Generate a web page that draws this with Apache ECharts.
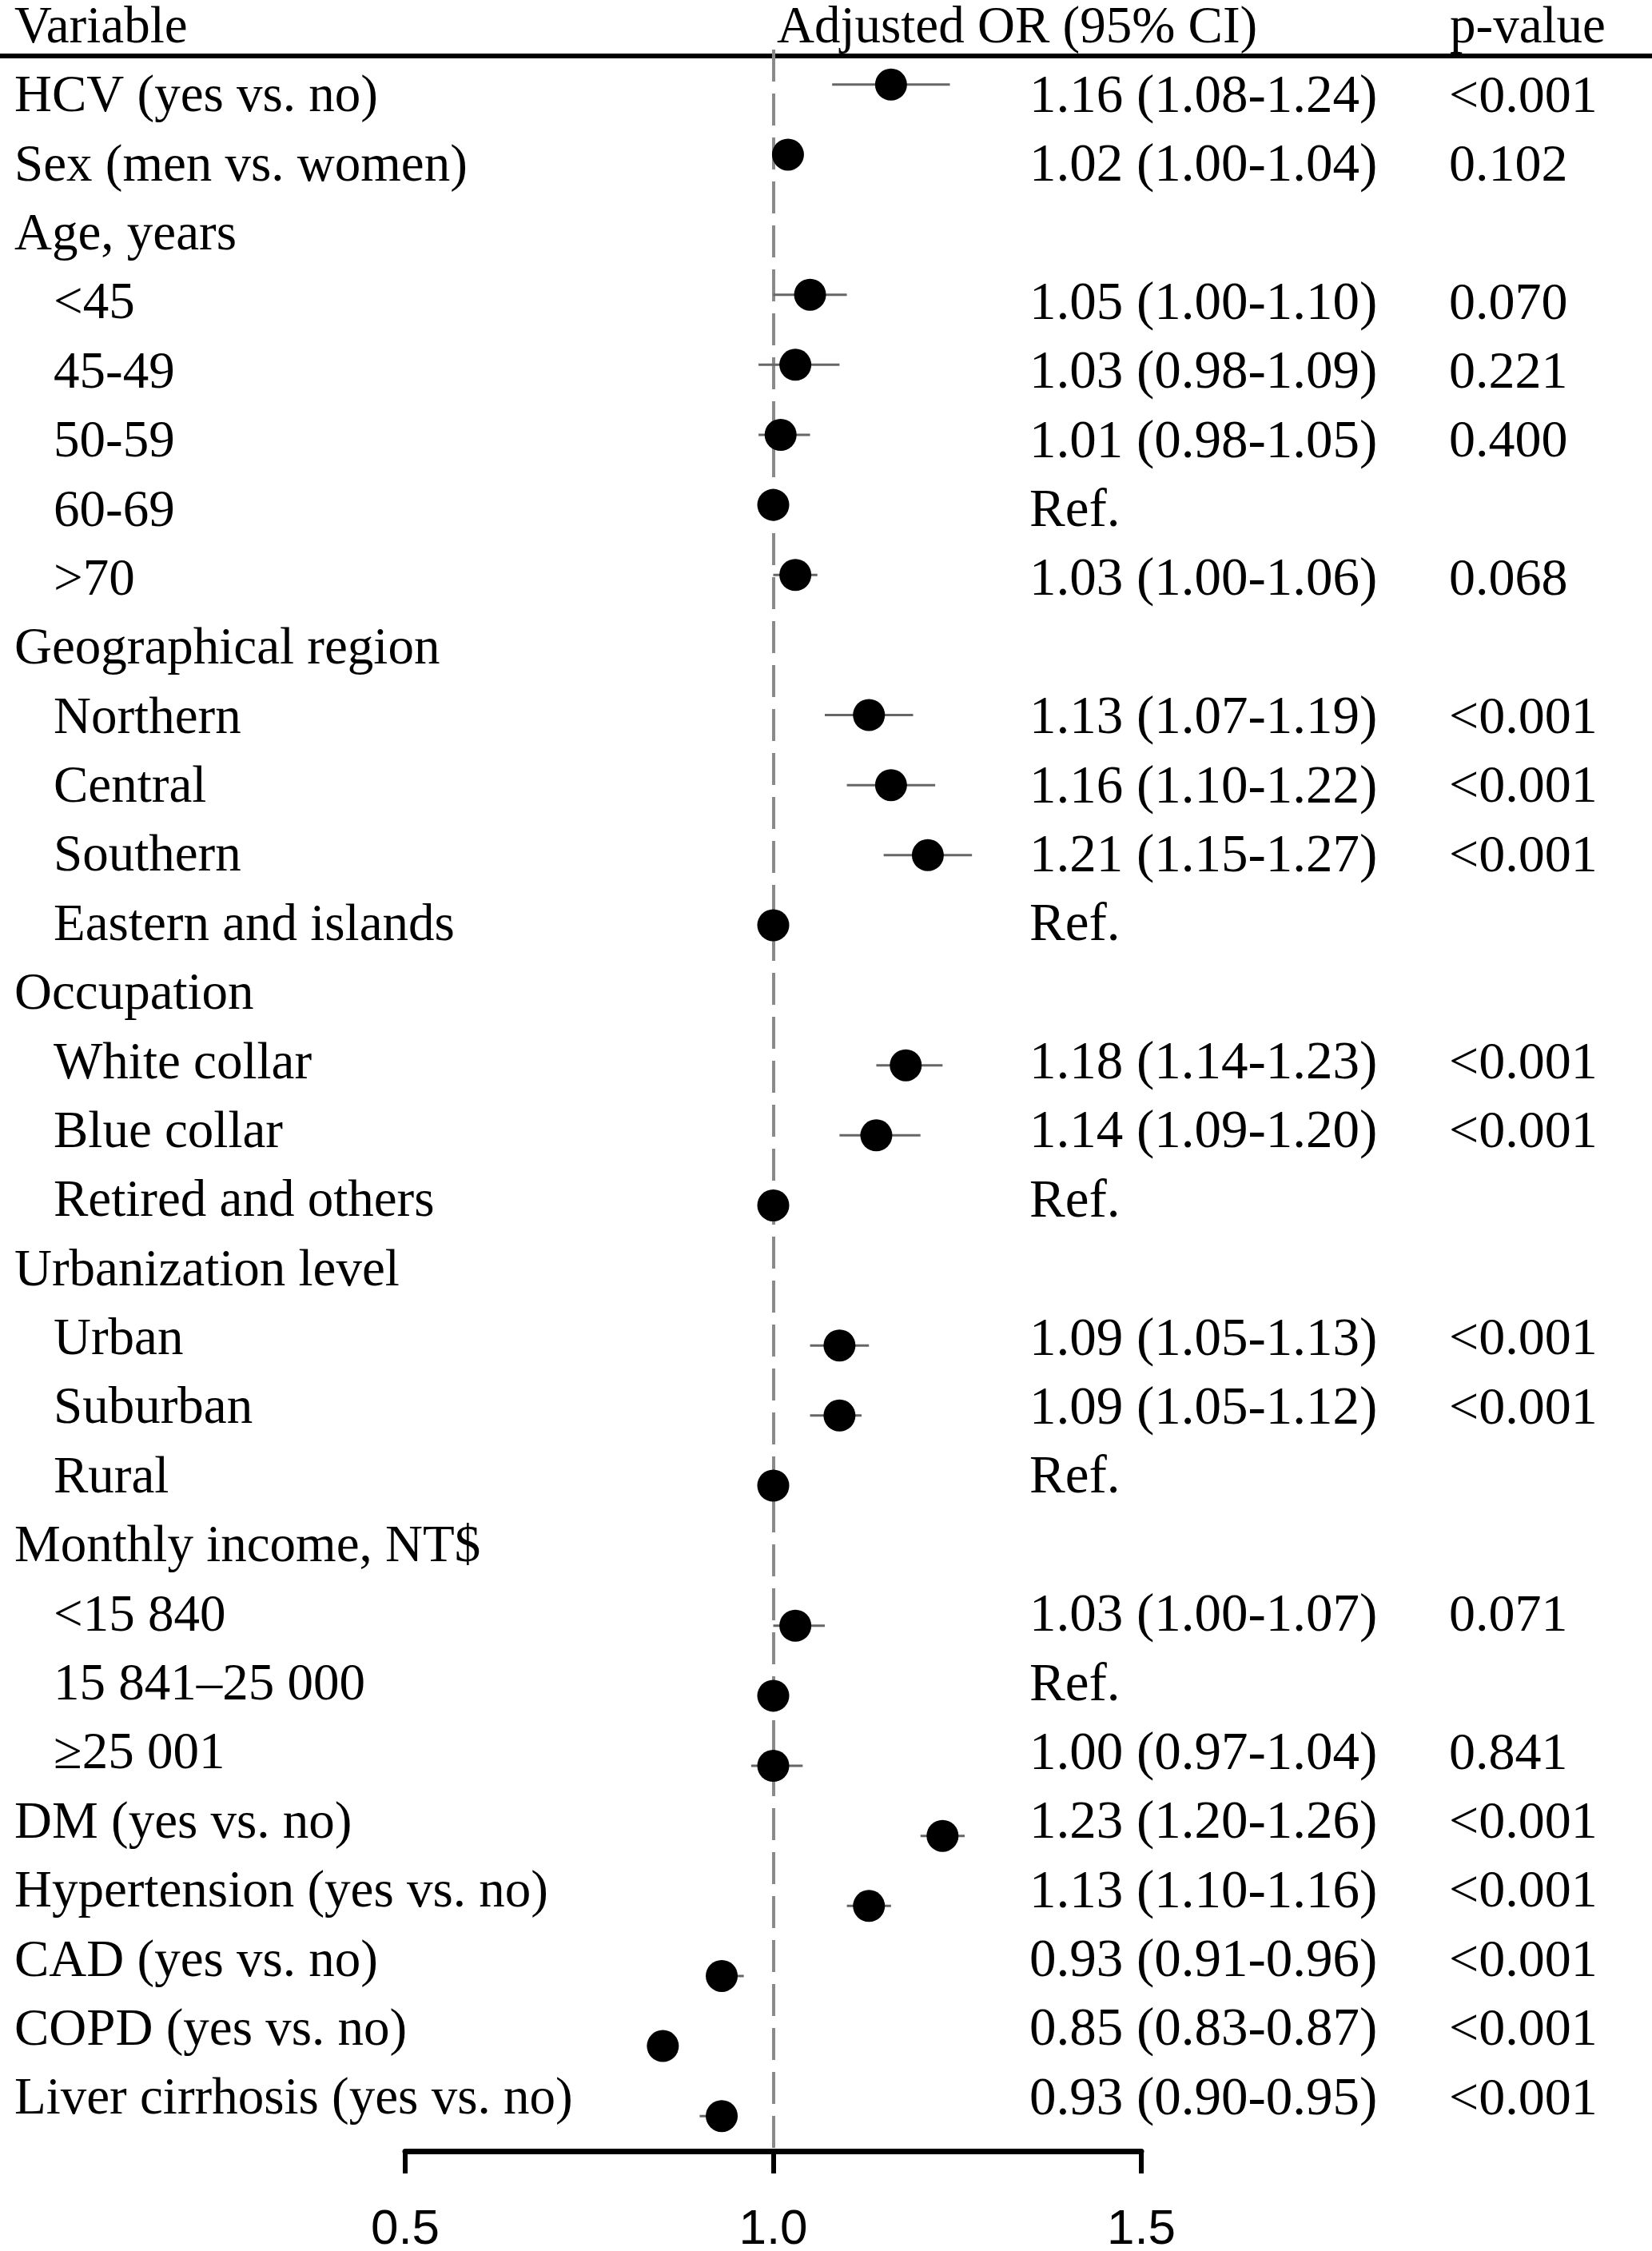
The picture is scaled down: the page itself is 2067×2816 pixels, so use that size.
<!DOCTYPE html>
<html>
<head>
  <meta charset="UTF-8">
  <script src="https://cdn.jsdelivr.net/npm/echarts@6/dist/echarts.min.js"></script>
  <style>
    html, body { margin: 0; padding: 0; background: #fff; }
    #main { width: 2067px; height: 2816px; }
  </style>
</head>
<body>
  <div id="main"></div>
  <script>
    // rows of the table, top to bottom
    var variables = [
      'HCV (yes vs. no)', 'Sex (men vs. women)', 'Age, years', '<45', '45-49', '50-59', '60-69', '>70',
      'Geographical region', 'Northern', 'Central', 'Southern', 'Eastern and islands',
      'Occupation', 'White collar', 'Blue collar', 'Retired and others',
      'Urbanization level', 'Urban', 'Suburban', 'Rural',
      'Monthly income, NT$', '<15 840', '15 841\u201325 000', '\u226525 001',
      'DM (yes vs. no)', 'Hypertension (yes vs. no)', 'CAD (yes vs. no)', 'COPD (yes vs. no)', 'Liver cirrhosis (yes vs. no)'
    ];
    var indent = [0, 0, 0, 1, 1, 1, 1, 1, 0, 1, 1, 1, 1, 0, 1, 1, 1, 0, 1, 1, 1, 0, 1, 1, 1, 0, 0, 0, 0, 0];
    var orValues = [1.16, 1.02, null, 1.05, 1.03, 1.01, 1.00, 1.03, null, 1.13, 1.16, 1.21, 1.00, null, 1.18, 1.14, 1.00,
      null, 1.09, 1.09, 1.00, null, 1.03, 1.00, 1.00, 1.23, 1.13, 0.93, 0.85, 0.93];
    var ciLow = [1.08, 1.00, null, 1.00, 0.98, 0.98, null, 1.00, null, 1.07, 1.10, 1.15, null, null, 1.14, 1.09, null,
      null, 1.05, 1.05, null, null, 1.00, null, 0.97, 1.20, 1.10, 0.91, 0.83, 0.90];
    var ciHigh = [1.24, 1.04, null, 1.10, 1.09, 1.05, null, 1.06, null, 1.19, 1.22, 1.27, null, null, 1.23, 1.20, null,
      null, 1.13, 1.12, null, null, 1.07, null, 1.04, 1.26, 1.16, 0.96, 0.87, 0.95];
    var pValues = ['<0.001', '0.102', '', '0.070', '0.221', '0.400', '', '0.068', '', '<0.001', '<0.001', '<0.001', '',
      '', '<0.001', '<0.001', '', '', '<0.001', '<0.001', '', '', '0.071', '', '0.841', '<0.001', '<0.001', '<0.001', '<0.001', '<0.001'];
    var xTicks = [0.5, 1.0, 1.5];

    var serif = "'Liberation Serif', 'Times New Roman', serif";
    var fs = 65;

    // text for the OR column
    var orText = orValues.map(function (v, i) {
      if (v === null) return '';
      if (ciLow[i] === null) return 'Ref.';
      return v.toFixed(2) + ' (' + ciLow[i].toFixed(2) + '-' + ciHigh[i].toFixed(2) + ')';
    });

    var dots = [], whiskers = [];
    orValues.forEach(function (v, i) {
      if (v !== null) dots.push([v, i]);
      if (ciLow[i] !== null) whiskers.push([ciLow[i], ciHigh[i], i]);
    });

    function textAxis(margin, size, fmt) {
      return {
        type: 'category', gridIndex: 1, position: 'left', offset: 0, inverse: true,
        data: variables,
        axisLine: { show: false }, axisTick: { show: false }, splitLine: { show: false },
        axisLabel: {
          inside: true, margin: margin, interval: 0, align: 'left',
          color: '#000', fontFamily: serif, fontSize: size,
          formatter: fmt,
          rich: { ind: { fontFamily: serif, fontSize: size, color: '#000', padding: [0, 0, 0, 49] } }
        }
      };
    }

    var chart = echarts.init(document.getElementById('main'));
    chart.setOption({
      backgroundColor: '#fff',
      animation: false,
      title: [
        { text: 'Variable', left: 18, top: 3, padding: 0 },
        { text: 'Adjusted OR (95% CI)', left: 972, top: 3, padding: 0 },
        { text: 'p-value', left: 1814, top: 3, padding: 0 }
      ].map(function (t) {
        t.textStyle = { fontFamily: serif, fontSize: fs, fontWeight: 'normal', color: '#000' };
        return t;
      }),
      grid: [
        { left: 507, width: 921, top: 62, height: 2629, outerBoundsMode: 'none', containLabel: false },
        { left: 0, width: 2067, top: 79, height: 2591.4, outerBoundsMode: 'none', containLabel: false }
      ],
      xAxis: [
        {
          type: 'value', gridIndex: 0, min: 0.5, max: 1.5, interval: 0.5,
          axisLine: { show: true, lineStyle: { color: '#000', width: 7 } },
          axisTick: { show: true, length: 28, lineStyle: { color: '#000', width: 6 } },
          splitLine: { show: false },
          axisLabel: {
            margin: 68, color: '#000', fontSize: 62, fontFamily: "'Liberation Sans', Arial, sans-serif",
            formatter: function (v) { return xTicks.indexOf(v) >= 0 ? v.toFixed(1) : ''; }
          }
        },
        {
          type: 'value', gridIndex: 1, min: 0, max: 1, position: 'top', offset: 9,
          axisLine: { show: true, lineStyle: { color: '#000', width: 6 } },
          axisTick: { show: false }, axisLabel: { show: false }, splitLine: { show: false }
        }
      ],
      yAxis: [
        { type: 'category', gridIndex: 0, inverse: true, data: variables, show: false },
        textAxis(18, fs, function (v, i) { return indent[i] ? '{ind|' + v + '}' : v; }),
        textAxis(1288, 67, function (v, i) { return orText[i]; }),
        textAxis(1813, 66, function (v, i) { return pValues[i]; })
      ],
      series: [
        {
          type: 'custom', xAxisIndex: 0, yAxisIndex: 0, z: 2,
          data: whiskers,
          encode: { x: [0, 1], y: 2 },
          renderItem: function (params, api) {
            var a = api.coord([api.value(0), api.value(2)]);
            var b = api.coord([api.value(1), api.value(2)]);
            return {
              type: 'line',
              shape: { x1: a[0], y1: a[1], x2: b[0], y2: b[1] },
              style: { stroke: '#666', lineWidth: 3 }
            };
          }
        },
        {
          type: 'scatter', xAxisIndex: 0, yAxisIndex: 0, z: 4,
          data: dots, symbol: 'circle', symbolSize: 40,
          itemStyle: { color: '#000', opacity: 1 },
          markLine: {
            silent: true, symbol: 'none', z: 1,
            label: { show: false },
            lineStyle: { color: '#8a8a8a', width: 4, type: [40, 15] },
            data: [{ xAxis: 1.0 }]
          }
        }
      ]
    });
  </script>
</body>
</html>
